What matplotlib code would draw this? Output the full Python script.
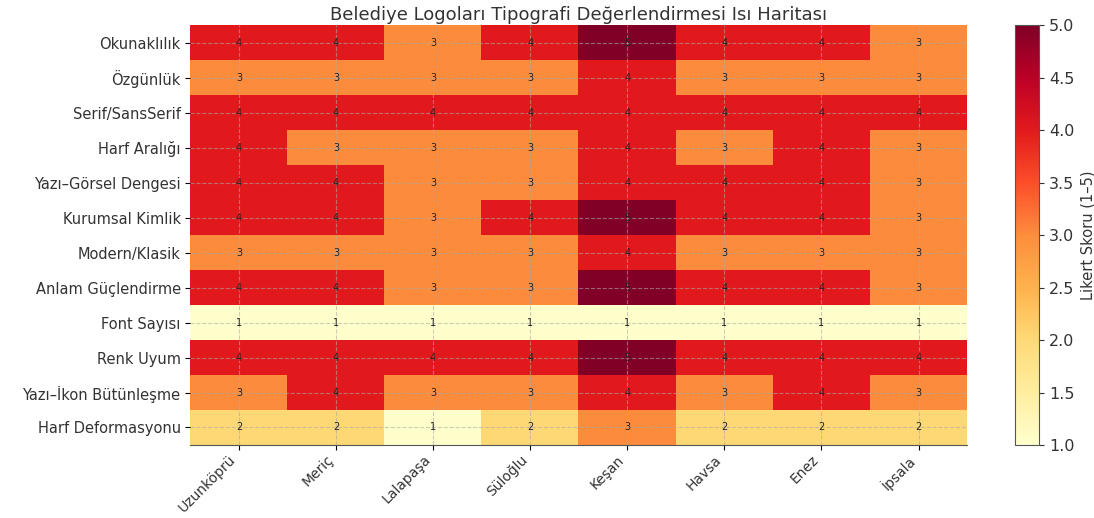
import numpy as np
import matplotlib
matplotlib.use("Agg")
import matplotlib.pyplot as plt

# ilçeler ve kriterler
ilceler = ["Uzunköprü", "Meriç", "Lalapaşa", "Süloğlu", "Keşan", "Havsa", "Enez", "İpsala"]
kriterler = ["Okunaklılık", "Özgünlük", "Serif/SansSerif", "Harf Aralığı",
             "Yazı–Görsel Dengesi", "Kurumsal Kimlik", "Modern/Klasik",
             "Anlam Güçlendirme", "Font Sayısı", "Renk Uyum",
             "Yazı–İkon Bütünleşme", "Harf Deformasyonu"]

okunaklilik = [4, 4, 3, 4, 5, 4, 4, 3]
ozgunluk = [3, 3, 3, 3, 4, 3, 3, 3]
serif = [4, 4, 4, 4, 4, 4, 4, 4]
harf_araligi = [4, 3, 3, 3, 4, 3, 4, 3]
yazi_gorsel = [4, 4, 3, 3, 4, 4, 4, 3]
kurumsal = [4, 4, 3, 4, 5, 4, 4, 3]
modern = [3, 3, 3, 3, 4, 3, 3, 3]
anlam = [4, 4, 3, 3, 5, 4, 4, 3]
font_sayisi = [1, 1, 1, 1, 1, 1, 1, 1]
renk = [4, 4, 4, 4, 5, 4, 4, 4]
yazi_ikon = [3, 4, 3, 3, 4, 3, 4, 3]
deformasyon = [2, 2, 1, 2, 3, 2, 2, 2]

veri = np.array([okunaklilik, ozgunluk, serif, harf_araligi, yazi_gorsel, kurumsal,
                 modern, anlam, font_sayisi, renk, yazi_ikon, deformasyon])

fig = plt.figure(figsize=(10.94, 5.18), dpi=100)
ax = fig.add_axes([0.174, 0.141, 0.71, 0.81])
cax = fig.add_axes([0.928, 0.141, 0.022, 0.81])

im = ax.imshow(veri, cmap="YlOrRd", vmin=1, vmax=5, aspect="auto")
ax.set_xticks(range(len(ilceler)))
ax.set_xticklabels(ilceler, rotation=45, ha="right", fontsize=10, color="#333333")
ax.tick_params(axis="x", pad=2)
ax.set_yticks(range(len(kriterler)))
ax.set_yticklabels(kriterler, fontsize=10.5, color="#333333")
ax.grid(True, linestyle="--", color="#aaaaaa", alpha=0.6, linewidth=0.8)
for s in ax.spines.values():
    s.set_visible(False)
ax.spines["bottom"].set_visible(True)
ax.spines["bottom"].set_color("#555555")

for i in range(veri.shape[0]):
    for j in range(veri.shape[1]):
        ax.text(j, i, str(veri[i, j]), ha="center", va="center", fontsize=7, color="#222222")

ax.set_title("Belediye Logoları Tipografi Değerlendirmesi Isı Haritası", fontsize=13, color="#333333", pad=4)

cb = fig.colorbar(im, cax=cax)
cb.set_label("Likert Skoru (1–5)", fontsize=10.5, color="#333333")
cb.ax.tick_params(labelsize=11.5, colors="#333333")
cb.outline.set_edgecolor("#555555")

fig.savefig("out.png", dpi=100)
